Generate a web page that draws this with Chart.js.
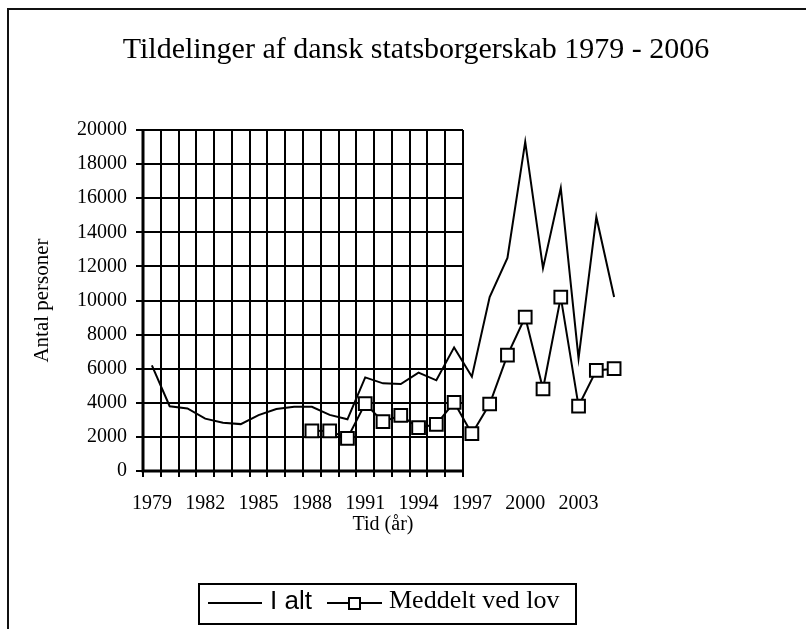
<!DOCTYPE html>
<html>
<head>
<meta charset="utf-8">
<script src="https://cdn.jsdelivr.net/npm/chart.js@4/dist/chart.umd.min.js"></script>
<style>
  html, body { margin: 0; padding: 0; background: #fff; }
  #wrap { position: relative; width: 806px; height: 629px; overflow: hidden; }
  #chart { position: absolute; left: 0; top: 0; }
  #frame { position: absolute; left: 7px; top: 8px; right: -10px; bottom: -10px;
           border-left: 2px solid #111; border-top: 2px solid #111; }
  #title { position: absolute; left: 116px; top: 30px; width: 600px; text-align: center;
           font: 30px 'Liberation Serif', 'Times New Roman', serif; line-height: 36px;
           color: #000; white-space: nowrap; }
  #legend { position: absolute; left: 198px; top: 583px; width: 375px; height: 38px;
            border: 2px solid #000; background: #fff; }
  #legend .line { position: absolute; height: 2px; background: #000; }
  #legend .sq { position: absolute; width: 9px; height: 9px; border: 2px solid #000; background: #fff; }
  #legend .txt { position: absolute; top: 0; line-height: 38px; color: #000; white-space: nowrap; }
</style>
</head>
<body>
<div id="wrap">
  <canvas id="chart" width="806" height="629"></canvas>
  <div id="frame"></div>
  <div id="title">Tildelinger af dansk statsborgerskab 1979 - 2006</div>
  <div id="legend">
    <div class="line" style="left:8px; top:17px; width:54px;"></div>
    <span class="txt" style="left:70px; font: 26px 'Liberation Sans', Arial, sans-serif;">I alt</span>
    <div class="line" style="left:127px; top:17px; width:55px;"></div>
    <div class="sq" style="left:148px; top:12px;"></div>
    <span class="txt" style="left:189px; font: 26px 'Liberation Serif', 'Times New Roman', serif;">Meddelt ved lov</span>
  </div>
</div>
<script>
// Data
const years = ['1979', '1980', '1981', '1982', '1983', '1984', '1985', '1986', '1987',
               '1988', '1989', '1990', '1991', '1992', '1993', '1994', '1995', '1996',
               '1997', '1998', '1999', '2000', '2001', '2002', '2003', '2004', '2005'];
const iAlt = [6200, 3800, 3670, 3070, 2830, 2750, 3280, 3640, 3770,
              3770, 3290, 3030, 5490, 5140, 5100, 5770, 5320, 7250,
              5530, 10200, 12500, 19300, 11900, 16600, 6600, 14900, 10200];
const meddeltVedLov = [null, null, null, null, null, null, null, null, null,
                       2360, 2350, 1920, 3950, 2890, 3260, 2540, 2740, 4030,
                       2190, 3930, 6800, 9030, 4810, 10200, 3810, 5900, 6000];
const yMax = 20000;
const yStep = 2000;
const gridColumns = 18;   // gitteret dækker kun de første kolonner i originalen

const serif = "'Liberation Serif', 'Times New Roman', serif";

// Excel-agtigt gitter og akser
const excelGrid = {
    id: 'excelGrid',
    beforeDatasetsDraw(chart) {
        const { ctx, chartArea, scales: { x, y } } = chart;
        const step = x.getPixelForValue(1) - x.getPixelForValue(0);
        const x0 = Math.round(x.getPixelForValue(0) - step / 2);
        const right = x0 + gridColumns * step;
        ctx.save();
        ctx.strokeStyle = '#000';
        ctx.lineWidth = 2;
        for (let v = 0; v <= yMax; v += yStep) {
            const py = Math.round(y.getPixelForValue(v));
            ctx.beginPath();
            ctx.moveTo(x0 - 7, py);
            ctx.lineTo(right, py);
            ctx.stroke();
        }
        for (let k = 0; k <= gridColumns; k++) {
            const px = Math.round(x0 + k * step);
            ctx.beginPath();
            ctx.moveTo(px, chartArea.top);
            ctx.lineTo(px, chartArea.bottom + 6);
            ctx.stroke();
        }
        ctx.lineWidth = 3;
        ctx.beginPath();
        ctx.moveTo(x0, chartArea.top);
        ctx.lineTo(x0, chartArea.bottom);
        ctx.lineTo(right, chartArea.bottom);
        ctx.stroke();
        ctx.restore();
    }
};

new Chart(document.getElementById('chart'), {
    type: 'line',
    data: {
        labels: years,
        datasets: [{
            label: 'I alt',
            data: iAlt,
            borderColor: '#000',
            borderWidth: 2,
            pointRadius: 0,
            tension: 0,
            order: 1
        }, {
            label: 'Meddelt ved lov',
            data: meddeltVedLov,
            borderColor: '#000',
            borderWidth: 2,
            pointStyle: 'rect',
            pointRadius: 9,
            pointBorderWidth: 2,
            pointBackgroundColor: '#fff',
            pointBorderColor: '#000',
            tension: 0,
            order: 0
        }]
    },
    options: {
        responsive: false,
        animation: false,
        layout: { padding: { left: 0, right: 183, top: 130, bottom: 92 } },
        plugins: {
            legend: { display: false },
            tooltip: { enabled: false },
            title: { display: false }
        },
        scales: {
            x: {
                type: 'category',
                offset: true,
                grid: { display: false },
                border: { display: false },
                ticks: {
                    autoSkip: false,
                    maxRotation: 0,
                    padding: 13,
                    color: '#000',
                    font: { family: serif, size: 20 },
                    callback: function (value, index) {
                        return index % 3 === 0 ? this.getLabelForValue(value) : '';
                    }
                },
                title: {
                    display: true,
                    text: 'Tid (år)',
                    color: '#000',
                    font: { family: serif, size: 20 },
                    padding: { top: 1, bottom: 0 }
                },
                afterFit: s => { s.height = 66; }
            },
            y: {
                min: 0,
                max: yMax,
                grid: { display: false },
                border: { display: false },
                ticks: {
                    stepSize: yStep,
                    padding: 8,
                    color: '#000',
                    font: { family: serif, size: 20 },
                    callback: value => String(value)
                },
                title: {
                    display: true,
                    text: 'Antal personer',
                    color: '#000',
                    font: { family: serif, size: 21 },
                    padding: { top: 30, bottom: 0 }
                },
                afterFit: s => { s.width = 143; }
            }
        }
    },
    plugins: [excelGrid]
});
</script>
</body>
</html>
